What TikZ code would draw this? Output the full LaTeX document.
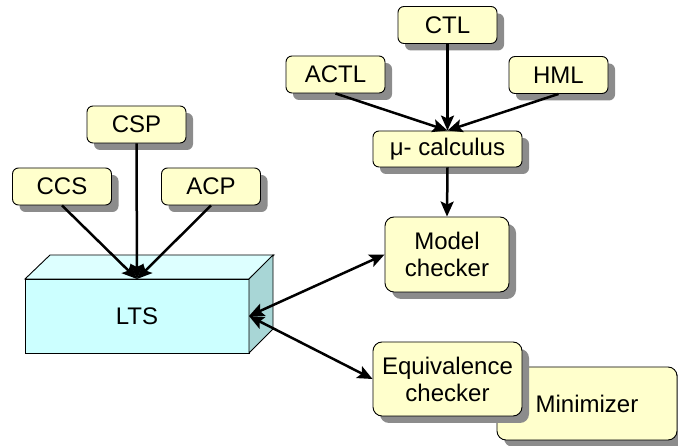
\documentclass[tikz,border=0pt]{standalone}
\usepackage{fontspec}
\setmainfont{Liberation Sans}
\usetikzlibrary{arrows.meta, shadows}

\definecolor{boxyellow}{HTML}{FFFFCC}
\definecolor{ltsfront}{HTML}{CCFFFF}
\definecolor{ltstop}{HTML}{DDFFFF}
\definecolor{ltsside}{HTML}{A8D6D6}
\definecolor{shadowgray}{HTML}{8C8C8C}

\begin{document}
\begin{tikzpicture}[x=1pt, y=-1pt,
    arr/.style={-{Stealth[length=15pt, width=13pt, inset=3pt]}, line width=2.5pt},
    darr/.style={{Stealth[length=15pt, width=13pt, inset=3pt]}-{Stealth[length=15pt, width=13pt, inset=3pt]}, line width=2.5pt},
    lang/.style={rectangle, rounded corners=6pt, draw, line width=0.9pt, fill=boxyellow,
        drop shadow={shadow xshift=7pt, shadow yshift=-7pt, fill=shadowgray, opacity=1},
        minimum width=99pt, minimum height=37pt, inner sep=0pt, align=center,
        font=\fontsize{24}{27}\selectfont},
    tool/.style={lang, rounded corners=9pt},
    ltsbox/.style={rectangle, draw, line width=0.9pt, fill=ltsfront, outer sep=0pt,
        minimum width=224pt, minimum height=74pt, font=\fontsize{24}{27}\selectfont},
]
\useasboundingbox (0,0) rectangle (678,446);

% Process languages
\node[lang] (csp) at (136.5,124.5) {CSP};
\node[lang] (ccs) at (62,186.5) {CCS};
\node[lang] (acp) at (211,186.5) {ACP};

% Logics
\node[lang] (ctl) at (447.5,25) {CTL};
\node[lang] (actl) at (335.5,74.5) {ACTL};
\node[lang] (hml) at (558.5,75) {HML};
\node[lang, minimum width=149pt, minimum height=36pt] (mu) at (447.5,149) {μ- calculus};

% Tools
\node[tool, minimum width=124pt, minimum height=75pt] (model) at (447,254.5) {Model\\checker};
\node[tool, minimum width=180pt, minimum height=73pt] (minim) at (587,403.5) {Minimizer};
\node[tool, minimum width=149pt, minimum height=74pt] (equiv) at (447.5,379) {Equivalence\\checker};

% LTS block
\node[ltsbox] (lts) at (137,316) {LTS};
\draw[line width=0.9pt, fill=ltstop] (lts.north west) -- ++(25,-24) -- ++(224,0) -- (lts.north east) -- cycle;
\draw[line width=0.9pt, fill=ltsside] (lts.north east) -- ++(24,-24) -- ++(0,74) -- (lts.south east) -- cycle;

% Arrows
\draw[arr] (ccs.south) -- (lts.north);
\draw[arr] (csp.south) -- (lts.north);
\draw[arr] (acp.south) -- (lts.north);
\draw[arr] (actl.south) -- (mu.north);
\draw[arr] (ctl.south) -- (mu.north);
\draw[arr] (hml.south) -- (mu.north);
\draw[arr] (mu.south) -- (model.north);
\draw[darr] (lts.east) -- (model.west);
\draw[darr] (lts.east) -- (equiv.west);

\end{tikzpicture}
\end{document}
